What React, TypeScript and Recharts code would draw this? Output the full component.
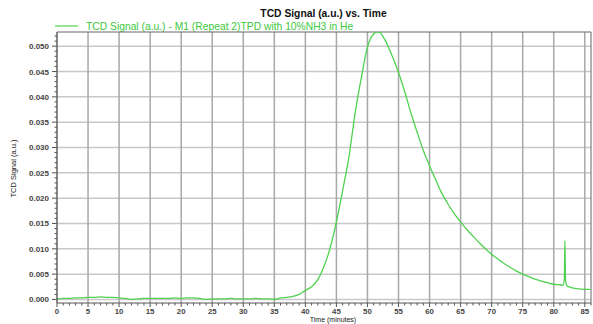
import React from 'react';
import { LineChart, Line, XAxis, YAxis, CartesianGrid, ReferenceLine, Customized } from 'recharts';

const times = [0,1,2,3,4,5,6,7,8,9,10,11,12,13,14,15,16,17,18,19,20,21,22,23,24,25,26,27,28,29,30,31,32,33,34,35,36,37,38,39,40,41,42,43,44,45,46,47,48,49,50,50.5,51,51.5,52,52.5,53,54,55,56,57,58,59,60,61,62,63,64,65,66,67,68,69,70,71,72,73,74,75,76,77,78,79,80,81,81.5,81.7,81.8,81.9,82.1,82.5,83,84,85,85.9];
const signals = [0.0001,0.0002,0.0002,0.0003,0.0003,0.0004,0.0004,0.0005,0.0004,0.0004,0.0003,0.0002,0.0000,0.0001,0.0002,0.0002,0.0002,0.0002,0.0002,0.0003,0.0002,0.0003,0.0003,0.0002,0.0000,0.0001,0.0001,0.0001,0.0002,0.0001,0.0001,0.0001,0.0002,0.0001,0.0001,0.0000,0.0003,0.0004,0.0006,0.0010,0.0018,0.0025,0.0039,0.0065,0.0102,0.0153,0.0215,0.0280,0.0367,0.0437,0.0498,0.0515,0.0524,0.0528,0.0527,0.0519,0.0508,0.0480,0.0448,0.0410,0.0368,0.0330,0.0294,0.0264,0.0236,0.0209,0.0188,0.0169,0.0153,0.0138,0.0125,0.0112,0.0100,0.0089,0.0080,0.0071,0.0063,0.0056,0.0050,0.0045,0.0040,0.0036,0.0033,0.0030,0.0029,0.0028,0.0040,0.0116,0.0040,0.0027,0.0025,0.0023,0.0021,0.0020,0.0020];

const xMajorTicks = [0,5,10,15,20,25,30,35,40,45,50,55,60,65,70,75,80,85];
const yMajorTicks = [0,0.005,0.010,0.015,0.020,0.025,0.030,0.035,0.040,0.045,0.050];
const xMinorTicks = Array.from({ length: 87 }, (_, i) => i);
const yMinorTicks = Array.from({ length: 53 }, (_, i) => Number((i * 0.001).toFixed(3)));

const title = 'TCD Signal (a.u.) vs. Time';
const seriesName = 'TCD Signal (a.u.) - M1 (Repeat 2)TPD with 10%NH3 in He';
const xLabel = 'Time (minutes)';
const yLabel = 'TCD Signal (a.u.)';

const data = times.map((t, i) => ({ t, v: signals[i] }));

const FONT = '"Liberation Sans", Arial, sans-serif';
const GREEN = '#4fd24f';

const XTick = (props: any) => {
  const { x, y, payload } = props;
  const v = payload.value;
  const major = v % 5 === 0;
  return (
    <g>
      <line x1={x} x2={x} y1={y} y2={y + (major ? 4 : 2.5)} stroke="#555" strokeWidth={1} />
      {major && (
        <text x={x} y={y + 11} textAnchor="middle" fontFamily={FONT} fontSize={7.8} fontWeight="bold" fill="#444">
          {v}
        </text>
      )}
    </g>
  );
};

const YTick = (props: any) => {
  const { x, y, payload } = props;
  const v = payload.value;
  const k = Math.round(v * 1000);
  const major = k % 5 === 0;
  return (
    <g>
      <line x1={x - (major ? 5 : 2.5)} x2={x} y1={y} y2={y} stroke="#555" strokeWidth={1} />
      {major && (
        <text x={x - 8} y={y + 3} textAnchor="end" fontFamily={FONT} fontSize={8} fontWeight="bold" fill="#444">
          {v.toFixed(3)}
        </text>
      )}
    </g>
  );
};

const Texts = () => (
  <g>
    <text x={323.5} y={17} textAnchor="middle" fontFamily={FONT} fontSize={10.3} fontWeight="bold" fill="#111">{title}</text>
    <line x1={55} x2={78} y1={26} y2={26} stroke={GREEN} strokeWidth={1.2} />
    <text x={86} y={29.5} fontFamily={FONT} fontSize={10.3} fill="#3cc83c">{seriesName}</text>
    <text x={333} y={322} textAnchor="middle" fontFamily={FONT} fontSize={7} fill="#222">{xLabel}</text>
    <text x={15.5} y={168.5} textAnchor="middle" fontFamily={FONT} fontSize={7.5} fill="#222" transform="rotate(-90, 15.5, 168.5)">{yLabel}</text>
  </g>
);

export default function App() {
  return (
    <div style={{ position: 'absolute', left: 0, top: 0, width: 593, height: 324, background: '#fff' }}>
      <LineChart width={593} height={324} data={data} margin={{ top: 32, right: 2, bottom: 0, left: 0 }}>
        <CartesianGrid horizontal={true} vertical={false} horizontalValues={yMajorTicks} stroke="#c8c8c8" strokeWidth={1.5} />
        <CartesianGrid horizontal={false} vertical={true} verticalValues={xMajorTicks} stroke="#a8a8a8" strokeWidth={1.5} />
        <XAxis
          dataKey="t"
          type="number"
          domain={[0, 86]}
          ticks={xMinorTicks}
          interval={0}
          height={21}
          tickSize={0}
          tickMargin={0}
          tickLine={false}
          tick={<XTick />}
          axisLine={{ stroke: '#555', strokeWidth: 1 }}
          allowDataOverflow
        />
        <YAxis
          type="number"
          domain={[-0.0007, 0.0528]}
          ticks={yMinorTicks}
          interval={0}
          width={57}
          tickSize={0}
          tickMargin={0}
          tickLine={false}
          tick={<YTick />}
          axisLine={{ stroke: '#555', strokeWidth: 1 }}
          allowDataOverflow
        />
        <ReferenceLine y={0.0528} stroke="#666" strokeWidth={1} />
        <ReferenceLine x={86} stroke="#666" strokeWidth={1} />
        <Line type="monotone" dataKey="v" stroke={GREEN} strokeWidth={1.3} dot={false} isAnimationActive={false} />
        <Customized component={Texts} />
      </LineChart>
    </div>
  );
}
